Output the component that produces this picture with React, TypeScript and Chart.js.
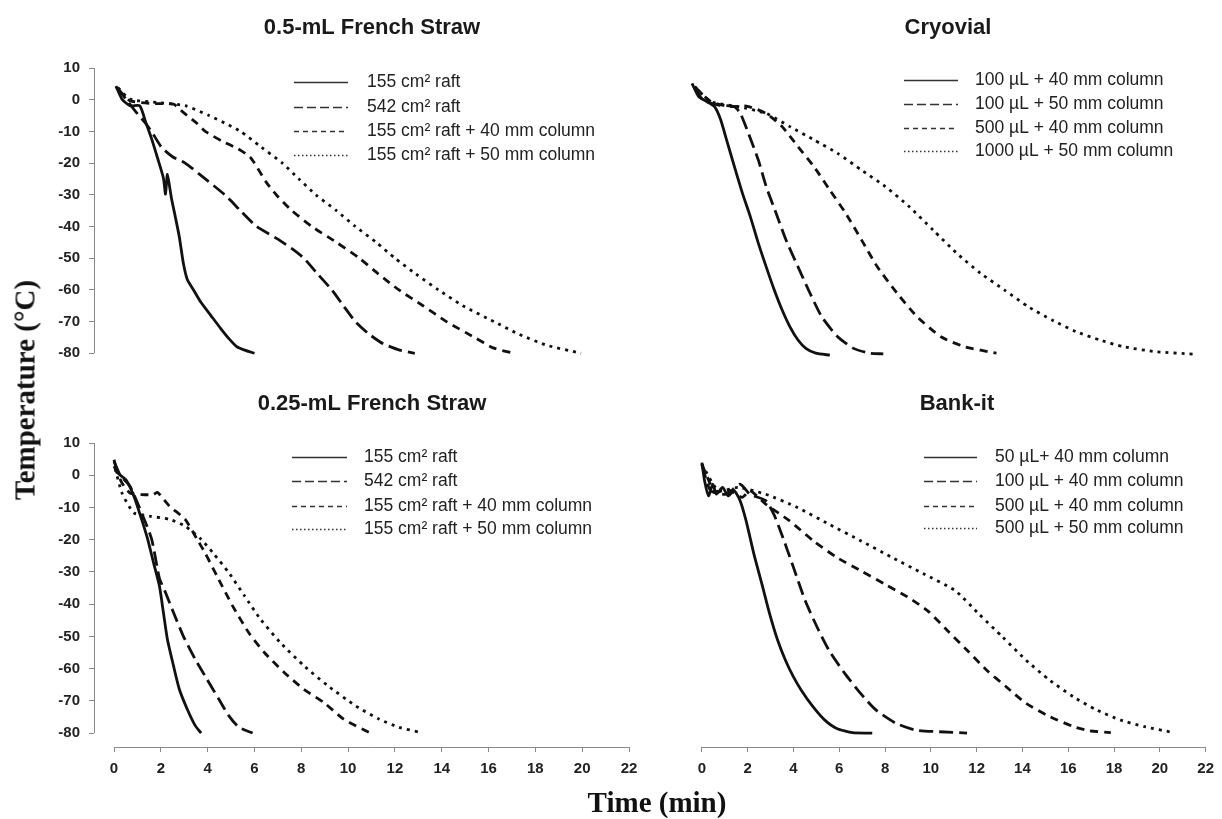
import React, { useEffect, useRef } from 'react';
import { Chart, registerables } from 'chart.js';

Chart.register(...registerables);

type Pt = [number, number];

// ---- tick labels ----
const xTicks = [0, 2, 4, 6, 8, 10, 12, 14, 16, 18, 20, 22];
const yTicks = [10, 0, -10, -20, -30, -40, -50, -60, -70, -80];

// ---- 0.5-mL French Straw (time min, temperature °C) ----
const fs05Raft155: Pt[] = [[0.08, 4.3], [0.34, 0.2], [0.68, -1.9], [1.1, -1.9], [1.35, -7], [1.6, -12.2], [1.86, -18.4], [2.11, -24.7], [2.2, -29.8], [2.28, -23.6], [2.45, -30.9], [2.62, -37], [2.79, -43.3], [2.96, -51.5], [3.13, -56.7], [3.38, -59.8], [3.72, -64], [4.14, -68.1], [4.56, -72.2], [4.9, -75.3], [5.24, -77.9], [5.58, -79], [6.0, -80]];
const fs05Raft542: Pt[] = [[0.12, 4], [0.5, 0.3], [0.9, -3.5], [1.3, -7], [1.6, -10], [2.03, -15], [2.5, -18], [3.04, -20], [3.9, -25], [4.73, -30], [5.4, -35], [6.09, -40], [7.0, -44], [7.6, -47], [8.11, -50], [8.7, -55], [9.3, -60], [9.8, -65], [10.31, -70], [10.9, -74], [11.5, -77], [12.2, -79], [12.85, -80]];
const fs05Col40: Pt[] = [[0.17, 3.3], [0.68, -0.3], [1.52, -1.2], [2.54, -1.4], [2.96, -4], [3.55, -7.5], [3.9, -10], [4.6, -13], [5.3, -15.5], [5.8, -18], [6.0, -20], [6.5, -26], [6.93, -30], [7.6, -35], [8.45, -40], [9.5, -45], [10.48, -50], [11.3, -55], [12.17, -60], [13.2, -65], [14.2, -70], [15.4, -75], [16.2, -78.3], [17.07, -80]];
const fs05Col50: Pt[] = [[0.17, 3.8], [0.68, 0.2], [1.86, -0.9], [3.04, -1.9], [4.06, -5], [4.9, -8], [5.41, -10], [6.3, -15], [7.19, -20], [7.9, -25], [8.62, -30], [9.5, -35], [10.31, -40], [11.2, -45], [12.0, -50], [12.9, -55], [13.86, -60], [14.9, -65], [16.23, -70], [17.3, -74], [18.5, -77.5], [19.95, -80]];

// ---- Cryovial ----
const cv100Col40: Pt[] = [[0, 5.2], [0.29, 1.1], [0.64, -0.4], [0.98, -2], [1.24, -6], [1.5, -12.3], [1.84, -20.6], [2.19, -28.9], [2.53, -36.1], [2.88, -44.4], [3.22, -51.7], [3.57, -58.9], [3.91, -65.1], [4.25, -70.3], [4.6, -74.4], [4.94, -77], [5.37, -78.5], [5.98, -79.1]];
const cv100Col50: Pt[] = [[0.12, 4.2], [0.47, 0.1], [1.15, -1.5], [1.84, -2], [2.1, -4.1], [2.45, -10.3], [2.88, -18.6], [3.22, -26.8], [3.65, -35.1], [4.08, -43.4], [4.6, -51.7], [5.12, -59.9], [5.63, -67.2], [6.32, -73.4], [7.01, -77], [7.7, -78.5], [8.3, -78.7]];
const cv500Col40: Pt[] = [[0.12, 4.2], [0.81, -0.4], [1.67, -2], [2.36, -1.8], [3.22, -4.1], [3.91, -8.2], [4.6, -14.4], [5.29, -20.6], [5.98, -27.9], [6.67, -35.1], [7.36, -43.4], [8.04, -51.7], [8.9, -59.9], [9.77, -67.2], [10.8, -73.4], [11.83, -76.5], [13.21, -78.5]];
const cv1000Col50: Pt[] = [[0.12, 4.2], [0.81, -0.4], [2.02, -2], [3.22, -4.1], [4.25, -8.2], [5.29, -12.3], [6.32, -16.5], [7.36, -21.7], [8.39, -26.8], [9.42, -33], [10.46, -40.3], [11.49, -47.5], [12.52, -53.7], [13.56, -58.9], [14.59, -64.1], [15.62, -68.2], [16.66, -71.8], [17.69, -74.4], [18.73, -76.5], [20.1, -78], [21.74, -78.8]];

// ---- 0.25-mL French Straw ----
const fs025Raft155: Pt[] = [[0, 4.8], [0.17, 0.7], [0.51, -1.4], [0.85, -6.5], [1.18, -13.7], [1.44, -19.9], [1.69, -27.2], [1.94, -34.4], [2.11, -42.6], [2.28, -50.9], [2.54, -59.1], [2.79, -66.4], [3.13, -72.6], [3.47, -77.7], [3.72, -80]];
const fs025Raft542: Pt[] = [[0, 4.3], [0.25, 0.2], [0.68, -3.4], [1.18, -11.7], [1.61, -19.9], [1.94, -32], [2.2, -36.4], [2.54, -42.6], [2.96, -49.9], [3.47, -57.1], [3.97, -63.3], [4.48, -69.5], [4.9, -74.6], [5.33, -78.2], [5.92, -80]];
const fs025Col40: Pt[] = [[0, 2.8], [0.34, -2.4], [0.68, -5.5], [1.18, -6], [1.69, -6], [1.86, -5.3], [2.37, -9.6], [3.04, -13.7], [3.55, -19.9], [3.89, -24.1], [4.4, -31.3], [5.07, -40.6], [5.75, -48.8], [6.42, -55], [7.27, -61.2], [8.11, -66.4], [8.96, -70.5], [9.81, -75.7], [10.9, -79.8]];
const fs025Col50: Pt[] = [[0.05, 2], [0.34, -5.5], [0.85, -11.7], [1.52, -12.7], [2.37, -13.7], [3.04, -15.8], [3.72, -19.9], [4.23, -24.1], [4.9, -30.2], [5.58, -37.5], [6.26, -44.7], [7.1, -51.9], [8.11, -59.1], [9.13, -65.3], [10.31, -71.5], [11.33, -75.7], [12.17, -78.2], [13.1, -79.8]];

// ---- Bank-it ----
const bk50Col40: Pt[] = [[0, 3.9], [0.12, -1.8], [0.29, -6.4], [0.47, -2.8], [0.64, -5.9], [0.9, -3.8], [1.15, -6.4], [1.41, -4.8], [1.67, -7.9], [1.93, -14.1], [2.27, -24.4], [2.62, -33.7], [2.96, -43], [3.31, -51.2], [3.65, -57.4], [4.0, -62.6], [4.34, -66.7], [4.86, -71.9], [5.37, -76], [5.89, -78.6], [6.58, -79.9], [7.44, -80]];
const bk100Col40: Pt[] = [[0, 3.4], [0.38, -4.8], [1.07, -5.9], [1.67, -2.8], [2.1, -5.9], [2.79, -7.9], [3.14, -12.1], [3.48, -18.2], [4.0, -28.6], [4.51, -38.9], [5.03, -47.1], [5.55, -54.3], [6.24, -61.5], [6.93, -67.7], [7.61, -72.9], [8.48, -77], [9.34, -79.1], [10.37, -79.6], [11.58, -80]];
const bk500Col40: Pt[] = [[0, 3.4], [0.55, -4.8], [1.24, -4.8], [1.76, -6.9], [2.1, -4.8], [2.79, -9], [3.82, -14.1], [4.86, -20.3], [5.89, -25.5], [6.93, -29.6], [7.96, -33.7], [8.99, -37.8], [9.85, -42], [10.71, -48.1], [11.58, -54.3], [12.44, -60.5], [13.3, -65.7], [14.16, -70.8], [15.19, -74.9], [16.23, -78], [16.92, -79.3], [17.86, -79.9]];
const bk500Col50: Pt[] = [[0, 3.4], [0.72, -4.8], [1.58, -3.8], [2.79, -5.9], [4.17, -10], [5.55, -15.2], [6.93, -20.3], [8.3, -25.5], [9.68, -30.6], [11.06, -35.8], [12.09, -43], [13.13, -50.2], [14.16, -57.4], [15.19, -63.6], [16.23, -68.8], [17.26, -72.9], [18.29, -76], [19.32, -78], [20.62, -79.9]];

// ---- titles & legend labels ----
const titles = ['0.5-mL French Straw', 'Cryovial', '0.25-mL French Straw', 'Bank-it'];
const labelsFs05 = ['155 cm² raft', '542 cm² raft', '155 cm² raft + 40 mm column', '155 cm² raft + 50 mm column'];
const labelsCryo = ['100 µL + 40 mm column', '100 µL + 50 mm column', '500 µL + 40 mm column', '1000 µL + 50 mm column'];
const labelsFs025 = ['155 cm² raft', '542 cm² raft', '155 cm² raft + 40 mm column', '155 cm² raft + 50 mm column'];
const labelsBank = ['50 µL+ 40 mm column', '100 µL + 40 mm column', '500 µL + 40 mm column', '500 µL + 50 mm column'];

const SANS = '"Liberation Sans", Arial, Helvetica, sans-serif';
const SERIF = '"Liberation Serif", "Times New Roman", serif';

const curveDash = [[], [14, 6], [8, 6], [3, 5]];
const legendDash = [[], [9, 4], [5, 4], [1.5, 2.5]];

interface PanelCfg {
  left: number; top: number; w: number; h: number;
  pad: { left: number; right: number; top: number; bottom: number };
  showX: boolean; showY: boolean;
  title: string; titleX: number; titleY: number;
  labels: string[]; series: Pt[][];
  legLineX1: number; legLineX2: number; legTextX: number; legRows: number[];
}

const panels: PanelCfg[] = [
  {
    left: 0, top: 0, w: 650, h: 385,
    pad: { left: 34, right: 21, top: 68, bottom: 13 },
    showX: false, showY: true,
    title: titles[0], titleX: 372, titleY: 34,
    labels: labelsFs05, series: [fs05Raft155, fs05Raft542, fs05Col40, fs05Col50],
    legLineX1: 294, legLineX2: 348, legTextX: 367, legRows: [82, 107, 131, 155],
  },
  {
    left: 650, top: 0, w: 572, h: 385,
    pad: { left: 22.29, right: 22.9, top: 68, bottom: 13 },
    showX: false, showY: false,
    title: titles[1], titleX: 948 - 650, titleY: 34,
    labels: labelsCryo, series: [cv100Col40, cv100Col50, cv500Col40, cv1000Col50],
    legLineX1: 904 - 650, legLineX2: 958 - 650, legTextX: 975 - 650, legRows: [80, 104, 128, 151],
  },
  {
    left: 0, top: 385, w: 650, h: 434,
    pad: { left: 34, right: 21, top: 58, bottom: 32 },
    showX: true, showY: true,
    title: titles[2], titleX: 372, titleY: 410 - 385,
    labels: labelsFs025, series: [fs025Raft155, fs025Raft542, fs025Col40, fs025Col50],
    legLineX1: 292, legLineX2: 347, legTextX: 364, legRows: [457 - 385, 481 - 385, 506 - 385, 529 - 385],
  },
  {
    left: 650, top: 385, w: 572, h: 434,
    pad: { left: 32.29, right: 12.9, top: 58, bottom: 32 },
    showX: true, showY: false,
    title: titles[3], titleX: 957 - 650, titleY: 410 - 385,
    labels: labelsBank, series: [bk50Col40, bk100Col40, bk500Col40, bk500Col50],
    legLineX1: 924 - 650, legLineX2: 977 - 650, legTextX: 995 - 650, legRows: [457 - 385, 481 - 385, 506 - 385, 528 - 385],
  },
];

const AXIS_COLOR = '#8a8a8a';

const decorPlugin = {
  id: 'decor',
  afterDraw(chart: any) {
    const cfg: PanelCfg = chart.options.plugins.decor.cfg;
    const ctx: CanvasRenderingContext2D = chart.ctx;
    const xs = chart.scales.x;
    const ys = chart.scales.y;
    const area = chart.chartArea;
    ctx.save();
    // axis lines (R style, spanning first to last tick)
    ctx.strokeStyle = AXIS_COLOR;
    ctx.lineWidth = 1;
    ctx.setLineDash([]);
    if (cfg.showY) {
      const x = Math.round(area.left) + 0.5;
      ctx.beginPath();
      ctx.moveTo(x, ys.getPixelForValue(yTicks[0]));
      ctx.lineTo(x, ys.getPixelForValue(yTicks[yTicks.length - 1]));
      ctx.stroke();
    }
    if (cfg.showX) {
      const y = Math.round(area.bottom) + 0.5;
      ctx.beginPath();
      ctx.moveTo(xs.getPixelForValue(xTicks[0]), y);
      ctx.lineTo(xs.getPixelForValue(xTicks[xTicks.length - 1]), y);
      ctx.stroke();
    }
    // title
    ctx.fillStyle = '#1a1a1a';
    ctx.font = `bold 22px ${SANS}`;
    ctx.textAlign = 'center';
    ctx.textBaseline = 'alphabetic';
    ctx.fillText(cfg.title, cfg.titleX, cfg.titleY);
    // legend
    ctx.font = `17.5px ${SANS}`;
    ctx.textAlign = 'left';
    ctx.textBaseline = 'middle';
    cfg.labels.forEach((lab, i) => {
      const y = cfg.legRows[i];
      ctx.strokeStyle = '#333';
      ctx.lineWidth = 1.3;
      ctx.setLineDash(legendDash[i]);
      ctx.beginPath();
      ctx.moveTo(cfg.legLineX1, y + 0.5);
      ctx.lineTo(cfg.legLineX2, y + 0.5);
      ctx.stroke();
      ctx.fillStyle = '#222';
      ctx.fillText(lab, cfg.legTextX, y);
    });
    ctx.restore();
  },
};

function Panel({ cfg }: { cfg: PanelCfg }) {
  const ref = useRef<HTMLCanvasElement>(null);
  useEffect(() => {
    if (!ref.current) return;
    const tickFont = { family: SANS, size: 15, weight: 'bold' as const };
    const chart = new Chart(ref.current, {
      type: 'line',
      data: {
        datasets: cfg.series.map((s, i) => ({
          label: cfg.labels[i],
          data: s.map(([x, y]) => ({ x, y })),
          borderColor: '#111',
          borderWidth: 2.8,
          borderDash: curveDash[i],
          pointRadius: 0,
          tension: 0.2,
          fill: false,
        })),
      },
      options: {
        animation: false,
        responsive: false,
        events: [],
        layout: { padding: cfg.pad },
        plugins: {
          legend: { display: false },
          tooltip: { enabled: false },
          title: { display: false },
          decor: { cfg },
        } as any,
        scales: {
          x: {
            type: 'linear',
            min: -0.855,
            max: 22,
            display: cfg.showX,
            afterBuildTicks: (s: any) => { s.ticks = xTicks.map((v) => ({ value: v })); },
            afterFit: (s: any) => { s.height = cfg.showX ? 40 : 0; },
            grid: { drawOnChartArea: false, drawTicks: true, tickLength: 5, color: AXIS_COLOR },
            border: { display: false },
            ticks: { font: tickFont, color: '#222', padding: 8, maxRotation: 0, autoSkip: false },
          },
          y: {
            type: 'linear',
            min: -84.33,
            max: 10,
            display: cfg.showY,
            afterBuildTicks: (s: any) => { s.ticks = yTicks.map((v) => ({ value: v })); },
            afterFit: (s: any) => { s.width = cfg.showY ? 60 : 0; },
            grid: { drawOnChartArea: false, drawTicks: true, tickLength: 5, color: AXIS_COLOR },
            border: { display: false },
            ticks: { font: tickFont, color: '#222', padding: 9, autoSkip: false },
          },
        },
      },
      plugins: [decorPlugin],
    });
    return () => chart.destroy();
  }, [cfg]);
  return (
    <canvas
      ref={ref}
      width={cfg.w}
      height={cfg.h}
      style={{ position: 'absolute', left: cfg.left, top: cfg.top, width: cfg.w, height: cfg.h }}
    />
  );
}

export default function App() {
  return (
    <div style={{ position: 'absolute', left: 0, top: 0, width: 1222, height: 819, background: '#fff', overflow: 'hidden' }}>
      {panels.map((p, i) => <Panel key={i} cfg={p} />)}
      <div
        style={{
          position: 'absolute', left: 25, top: 390,
          transform: 'translate(-50%, -50%) rotate(-90deg)',
          font: `bold 29px ${SERIF}`, color: '#111', whiteSpace: 'nowrap',
        }}
      >
        Temperature (°C)
      </div>
      <div
        style={{
          position: 'absolute', left: 657, top: 802,
          transform: 'translate(-50%, -50%)',
          font: `bold 29px ${SERIF}`, color: '#111', whiteSpace: 'nowrap',
        }}
      >
        Time (min)
      </div>
    </div>
  );
}
